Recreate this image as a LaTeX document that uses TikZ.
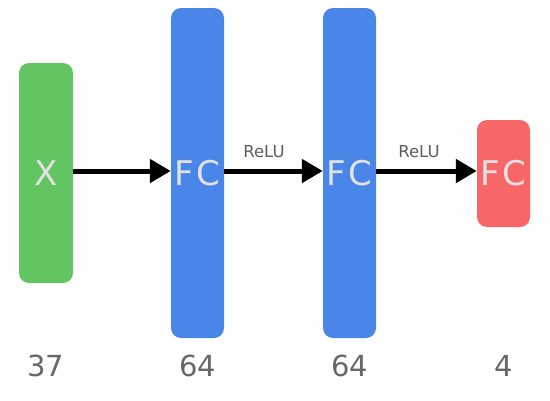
\documentclass[tikz,border=0pt]{standalone}
\usepackage{fontspec}
\setmainfont{DejaVu Sans}
\usetikzlibrary{arrows.meta}
\definecolor{lgreen}{HTML}{63C562}
\definecolor{lblue}{HTML}{4A86E8}
\definecolor{lred}{HTML}{F86767}
\definecolor{boxtext}{HTML}{E2E2E2}
\definecolor{numgrey}{HTML}{676767}
\definecolor{relugrey}{HTML}{5E5E5E}
\tikzset{
  layerbox/.style={rectangle, rounded corners=10pt, draw=none, minimum width=53pt, inner sep=0pt,
    text=boxtext, font=\fontsize{34}{38}\selectfont},
  conn/.style={line width=5pt, -{Triangle[length=21pt,width=23pt]}, black},
  numlabel/.style={text=numgrey, font=\fontsize{29}{32}\selectfont, inner sep=0pt},
  relulabel/.style={text=relugrey, font=\fontsize{16.5}{19}\selectfont, inner sep=0pt}
}
\begin{document}
\begin{tikzpicture}[x=1pt,y=-1pt]
\useasboundingbox (0,0) rectangle (550,400);
\node[layerbox, fill=lgreen, minimum width=54pt, minimum height=220pt] (x) at (46,173) {X};
\node[layerbox, fill=lblue, minimum height=330pt] (fc1) at (197.5,173) {F\kern3pt C};
\node[layerbox, fill=lblue, minimum height=330pt] (fc2) at (349.5,173) {F\kern3pt C};
\node[layerbox, fill=lred, minimum height=107pt] (fc3) at (503.5,173.5) {F\kern3pt C};
\draw[conn] ([yshift=2pt]x.east) -- ([yshift=2pt]x.east -| fc1.west);
\draw[conn] ([yshift=2pt]fc1.east) -- ([yshift=2pt]fc1.east -| fc2.west);
\draw[conn] ([yshift=2pt]fc2.east) -- ([yshift=2pt]fc2.east -| fc3.west);
\node[relulabel] (r1) at (264,152) {ReLU};
\node[relulabel] (r2) at (419,152) {ReLU};
\node[numlabel] (n1) at (46,366) {37};
\node[numlabel] (n2) at (198,366) {64};
\node[numlabel] (n3) at (350,366) {64};
\node[numlabel] (n4) at (504,366) {4};
\end{tikzpicture}
\end{document}
